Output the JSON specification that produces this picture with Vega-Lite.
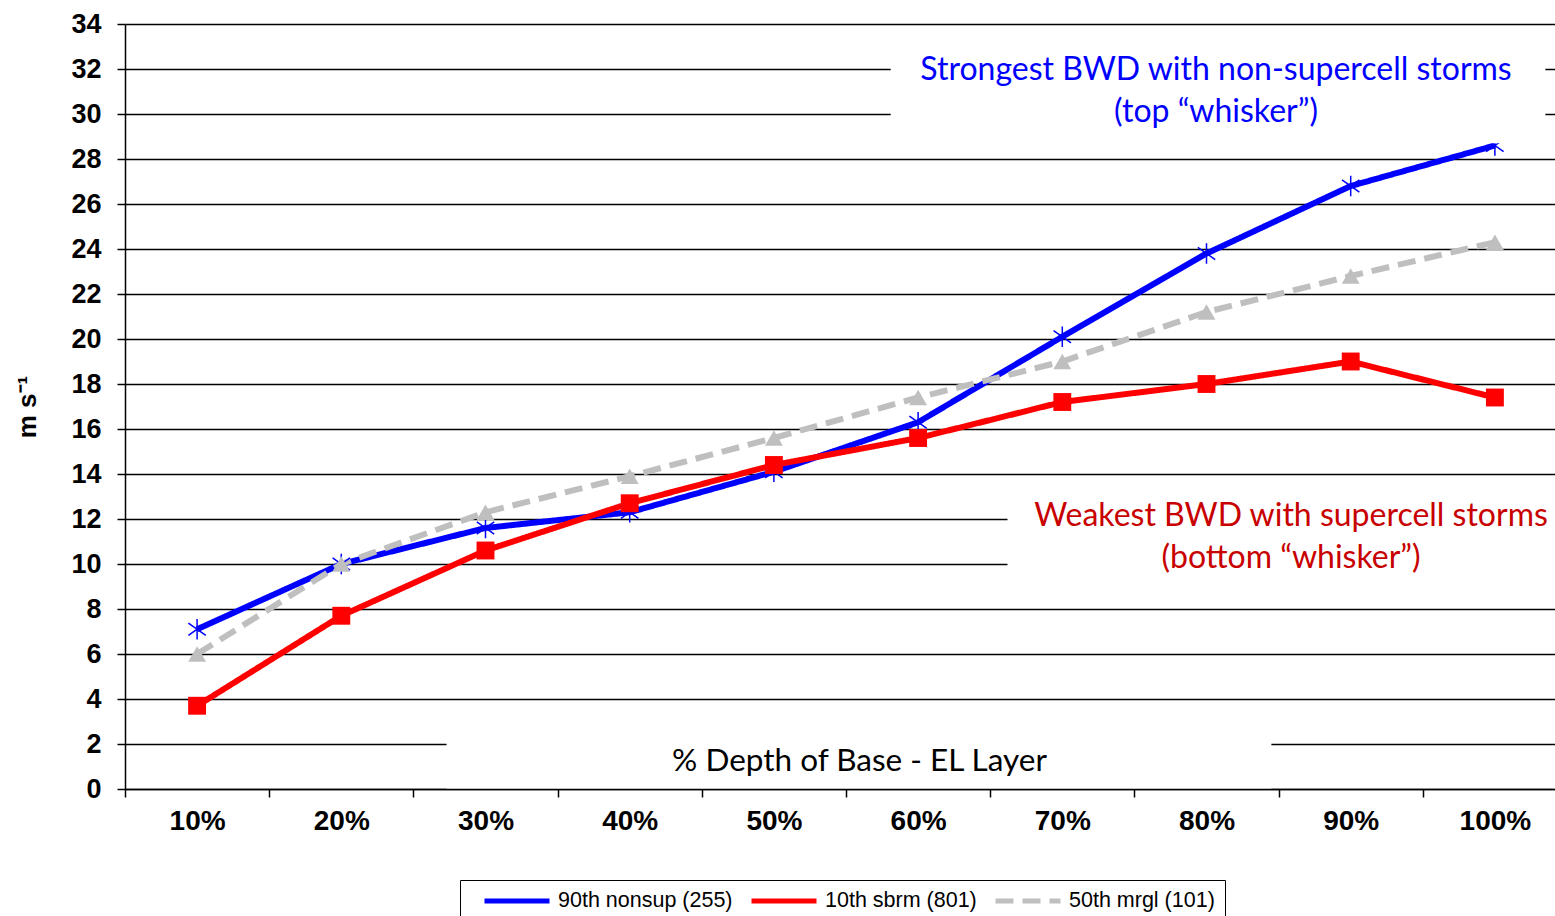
{
  "$schema": "https://vega.github.io/schema/vega-lite/v6.json",
  "autosize": {"type": "none"},
  "padding": {"left": 125, "top": 24, "right": 0, "bottom": 127},
  "width": 1430,
  "height": 765,
  "background": "white",
  "config": {
    "font": "Liberation Sans",
    "view": {"stroke": null}
  },
  "datasets": {
    "series": [
      {"pct": "10%", "series": "90th nonsup (255)", "v": 7.1},
      {"pct": "20%", "series": "90th nonsup (255)", "v": 10.0},
      {"pct": "30%", "series": "90th nonsup (255)", "v": 11.6},
      {"pct": "40%", "series": "90th nonsup (255)", "v": 12.3},
      {"pct": "50%", "series": "90th nonsup (255)", "v": 14.1},
      {"pct": "60%", "series": "90th nonsup (255)", "v": 16.3},
      {"pct": "70%", "series": "90th nonsup (255)", "v": 20.1},
      {"pct": "80%", "series": "90th nonsup (255)", "v": 23.8},
      {"pct": "90%", "series": "90th nonsup (255)", "v": 26.8},
      {"pct": "100%", "series": "90th nonsup (255)", "v": 28.6},
      {"pct": "10%", "series": "10th sbrm (801)", "v": 3.7},
      {"pct": "20%", "series": "10th sbrm (801)", "v": 7.7},
      {"pct": "30%", "series": "10th sbrm (801)", "v": 10.6},
      {"pct": "40%", "series": "10th sbrm (801)", "v": 12.7},
      {"pct": "50%", "series": "10th sbrm (801)", "v": 14.4},
      {"pct": "60%", "series": "10th sbrm (801)", "v": 15.6},
      {"pct": "70%", "series": "10th sbrm (801)", "v": 17.2},
      {"pct": "80%", "series": "10th sbrm (801)", "v": 18.0},
      {"pct": "90%", "series": "10th sbrm (801)", "v": 19.0},
      {"pct": "100%", "series": "10th sbrm (801)", "v": 17.4},
      {"pct": "10%", "series": "50th mrgl (101)", "v": 6.0},
      {"pct": "20%", "series": "50th mrgl (101)", "v": 10.0},
      {"pct": "30%", "series": "50th mrgl (101)", "v": 12.3},
      {"pct": "40%", "series": "50th mrgl (101)", "v": 13.9},
      {"pct": "50%", "series": "50th mrgl (101)", "v": 15.6},
      {"pct": "60%", "series": "50th mrgl (101)", "v": 17.4},
      {"pct": "70%", "series": "50th mrgl (101)", "v": 19.0},
      {"pct": "80%", "series": "50th mrgl (101)", "v": 21.2},
      {"pct": "90%", "series": "50th mrgl (101)", "v": 22.8},
      {"pct": "100%", "series": "50th mrgl (101)", "v": 24.3}
    ],
    "boxes": [
      {"box": "top", "x0": 5.31, "x1": 9.85, "y0": 28.7, "y1": 33.1},
      {"box": "bottom", "x0": 6.12, "x1": 10.0, "y0": 9.35, "y1": 13.05},
      {"box": "axis", "x0": 2.23, "x1": 7.95, "y0": 0, "y1": 2.2}
    ],
    "notes": [
      {"note": "top", "label": "Strongest BWD with non-supercell storms\n(top “whisker”)", "tx": 7.566, "ty": 31.96},
      {"note": "bottom", "label": "Weakest BWD with supercell storms\n(bottom “whisker”)", "tx": 8.086, "ty": 12.13}
    ]
  },
  "resolve": {"scale": {"x": "independent"}},
  "layer": [
    {
      "data": {"name": "series"},
      "encoding": {
        "x": {
          "field": "pct", "type": "nominal",
          "scale": {"type": "band", "domain": ["10%","20%","30%","40%","50%","60%","70%","80%","90%","100%"], "range": [0, 1442], "paddingInner": 0, "paddingOuter": 0},
          "axis": {
            "title": "% Depth of Base - EL Layer",
            "titleFont": "Lato", "titleFontSize": 31.5, "titleFontWeight": "normal", "titleColor": "black",
            "titleX": 734, "titleY": -28, "titleAlign": "center", "titleBaseline": "middle", "titleAnchor": null,
            "tickBand": "extent", "tickExtra": true, "tickSize": 8, "tickColor": "black", "tickWidth": 1.5,
            "domainColor": "black", "domainWidth": 1.5,
            "labelAngle": 0, "labelFontSize": 28, "labelFontWeight": "bold", "labelColor": "black", "labelPadding": 10,
            "grid": false, "zindex": 1
          }
        },
        "y": {
          "field": "v", "type": "quantitative", "title": "m s⁻¹",
          "scale": {"domain": [0, 34], "nice": false, "zero": true},
          "axis": {
            "values": [0,2,4,6,8,10,12,14,16,18,20,22,24,26,28,30,32,34],
            "grid": true, "gridColor": "black", "gridWidth": 1.5, "gridOpacity": 1,
            "domainColor": "black", "domainWidth": 1.5,
            "tickSize": 8, "tickColor": "black", "tickWidth": 1.5,
            "labelFontSize": 27, "labelFontWeight": "bold", "labelColor": "black", "labelPadding": 16,
            "titleFontSize": 26, "titleFontWeight": "bold", "titleColor": "black", "titlePadding": 30
          }
        }
      },
      "layer": [
        {
          "mark": {"type": "line", "strokeWidth": 6},
          "encoding": {
            "color": {
              "field": "series", "type": "nominal",
              "scale": {"domain": ["90th nonsup (255)", "10th sbrm (801)", "50th mrgl (101)"], "range": ["#0000FF", "#FF0000", "#BFBFBF"]},
              "legend": {
                "title": null, "orient": "none", "legendX": 335, "legendY": 856, "direction": "horizontal",
                "symbolType": "stroke", "symbolSize": 4225, "symbolStrokeWidth": 5, "clipHeight": 22,
                "symbolOffset": 12, "labelOffset": 6,
                "labelFontSize": 21.5, "labelColor": "black", "labelLimit": 400, "columnPadding": 4,
                "strokeColor": "black", "padding": 10, "fillColor": "white"
              }
            },
            "strokeDash": {
              "field": "series", "type": "nominal",
              "scale": {"domain": ["90th nonsup (255)", "10th sbrm (801)", "50th mrgl (101)"], "range": [[1, 0], [1, 0], [18, 9]]},
              "legend": null
            }
          }
        },
        {
          "transform": [{"filter": "datum.series === '90th nonsup (255)'"}],
          "mark": {"type": "point", "shape": "M0,-1L0,1M-0.85,-0.6L0.85,0.6M-0.85,0.6L0.85,-0.6", "filled": false, "stroke": "#0000FF", "strokeWidth": 1.5, "size": 420, "opacity": 1}
        },
        {
          "transform": [{"filter": "datum.series === '10th sbrm (801)'"}],
          "mark": {"type": "point", "shape": "square", "filled": true, "color": "#FF0000", "size": 320, "opacity": 1}
        },
        {
          "transform": [{"filter": "datum.series === '50th mrgl (101)'"}],
          "mark": {"type": "point", "shape": "triangle-up", "filled": true, "color": "#BFBFBF", "size": 320, "opacity": 1}
        }
      ]
    },
    {
      "layer": [
        {
          "data": {"name": "boxes"},
          "mark": {"type": "rect", "fill": "white", "stroke": null},
          "encoding": {
            "x": {"field": "x0", "type": "quantitative", "scale": {"domain": [0, 10], "range": [0, 1442], "nice": false, "zero": false}, "axis": null},
            "x2": {"field": "x1"},
            "y": {"field": "y0", "type": "quantitative", "title": "m s⁻¹"},
            "y2": {"field": "y1"}
          }
        },
        {
          "data": {"name": "notes"},
          "transform": [{"filter": "datum.note === 'top'"}],
          "mark": {"type": "text", "font": "Lato", "fontSize": 32, "color": "#0000FF", "align": "center", "baseline": "middle", "lineBreak": "\n", "lineHeight": 42},
          "encoding": {
            "x": {"field": "tx", "type": "quantitative", "scale": {"domain": [0, 10], "range": [0, 1442], "nice": false, "zero": false}, "axis": null},
            "y": {"field": "ty", "type": "quantitative", "title": "m s⁻¹"},
            "text": {"field": "label"}
          }
        },
        {
          "data": {"name": "notes"},
          "transform": [{"filter": "datum.note === 'bottom'"}],
          "mark": {"type": "text", "font": "Lato", "fontSize": 32, "color": "#C80000", "align": "center", "baseline": "middle", "lineBreak": "\n", "lineHeight": 42},
          "encoding": {
            "x": {"field": "tx", "type": "quantitative", "scale": {"domain": [0, 10], "range": [0, 1442], "nice": false, "zero": false}, "axis": null},
            "y": {"field": "ty", "type": "quantitative", "title": "m s⁻¹"},
            "text": {"field": "label"}
          }
        }
      ]
    }
  ]
}
